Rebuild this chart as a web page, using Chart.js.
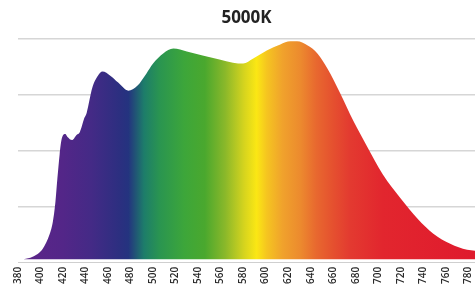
<!DOCTYPE html>
<html>
<head>
<meta charset="utf-8">
<script src="https://cdn.jsdelivr.net/npm/chart.js@4.4.1/dist/chart.umd.min.js"></script>
<style>
  html, body { margin: 0; padding: 0; background: #fff; }
  #wrap { width: 475px; height: 290px; }
</style>
</head>
<body>
<div id="wrap"><canvas id="c" width="475" height="290"></canvas></div>
<script>
const chartTitle = '5000K';
const wavelengths = [385,393,402,408,411,413,415,417,419,422,424,428,432,435,439,441,446,451,455,462,469,478,486,494,500,509,518,530,544,559,571,580,589,601,613,622,628,637,646,655,666,678,690,704,720,735,749,764,779,786];
const intensity = [0.016,0.027,0.063,0.126,0.184,0.26,0.377,0.484,0.556,0.574,0.561,0.547,0.57,0.583,0.646,0.668,0.78,0.834,0.852,0.834,0.803,0.767,0.789,0.843,0.888,0.933,0.955,0.942,0.924,0.906,0.892,0.888,0.91,0.946,0.973,0.987,0.987,0.969,0.933,0.865,0.758,0.632,0.52,0.395,0.287,0.197,0.13,0.085,0.058,0.054];
const tickStart = 380, tickEnd = 780, tickStep = 20;
const yGridValues = [0.25, 0.5, 0.75, 1.0];

// spectrum gradient stops (wavelength -> colour)
const gradNm  = [385, 420, 445, 470, 478, 492, 506, 528, 546, 564, 581, 592, 601, 615, 631, 645, 660, 675, 704, 786];
const gradCol = ['#5c2589','#532688','#442a86','#2c2f80','#24337f','#1d7d6a','#2a9550','#3da63a','#4aa82e','#8ab82a','#d6d41e','#fbe714','#f5c520','#f0a22c','#ec8a2e','#e8682f','#e5502f','#e33a30','#e2262e','#df1a2d'];

const points = wavelengths.map((w, i) => ({ x: w, y: intensity[i] }));

function spectrumFill(ctx) {
  const chart = ctx.chart;
  const area = chart.chartArea;
  if (!area) return '#888';
  const xs = chart.scales.x;
  const g = chart.ctx.createLinearGradient(area.left, 0, area.right, 0);
  const w = area.right - area.left;
  gradNm.forEach((nm, i) => {
    let p = (xs.getPixelForValue(nm) - area.left) / w;
    p = Math.max(0, Math.min(1, p));
    g.addColorStop(p, gradCol[i]);
  });
  return g;
}

new Chart(document.getElementById('c'), {
  type: 'line',
  data: {
    datasets: [{
      data: points,
      borderWidth: 0,
      borderColor: 'rgba(0,0,0,0)',
      pointRadius: 0,
      fill: { value: 0.016 },
      backgroundColor: spectrumFill,
      cubicInterpolationMode: 'monotone'
    }]
  },
  options: {
    responsive: false,
    animation: false,
    layout: { padding: { left: 18, right: 0, top: 0, bottom: 2 } },
    plugins: {
      legend: { display: false },
      tooltip: { enabled: false },
      title: {
        display: true,
        text: chartTitle,
        color: '#222',
        font: { family: 'Open Sans', size: 17, weight: 'bold' },
        padding: { top: 8, bottom: 10 }
      }
    },
    scales: {
      x: {
        type: 'linear',
        min: tickStart,
        max: 786,
        afterBuildTicks: (axis) => {
          const t = [];
          for (let v = tickStart; v <= tickEnd; v += tickStep) t.push({ value: v });
          axis.ticks = t;
        },
        afterFit: (axis) => { axis.paddingLeft = 0; axis.paddingRight = 0; },
        ticks: {
          minRotation: 90, maxRotation: 90,
          padding: 4,
          color: '#2a2a2a',
          font: { family: 'Open Sans', size: 10, weight: '600' },
          autoSkip: false
        },
        grid: { display: false, drawTicks: false },
        border: { display: true, color: '#cfcfcf', width: 1, dash: [7, 4] }
      },
      y: {
        min: 0,
        max: 1,
        afterBuildTicks: (axis) => {
          axis.ticks = [{ value: 0 }].concat(yGridValues.map(v => ({ value: v })));
        },
        ticks: { display: false },
        grid: {
          drawTicks: false,
          color: (c) => c.tick && c.tick.value === 0 ? 'rgba(0,0,0,0)' : '#d6d6d6',
          lineWidth: 1.5
        },
        border: { display: false }
      }
    }
  }
});
</script>
</body>
</html>
